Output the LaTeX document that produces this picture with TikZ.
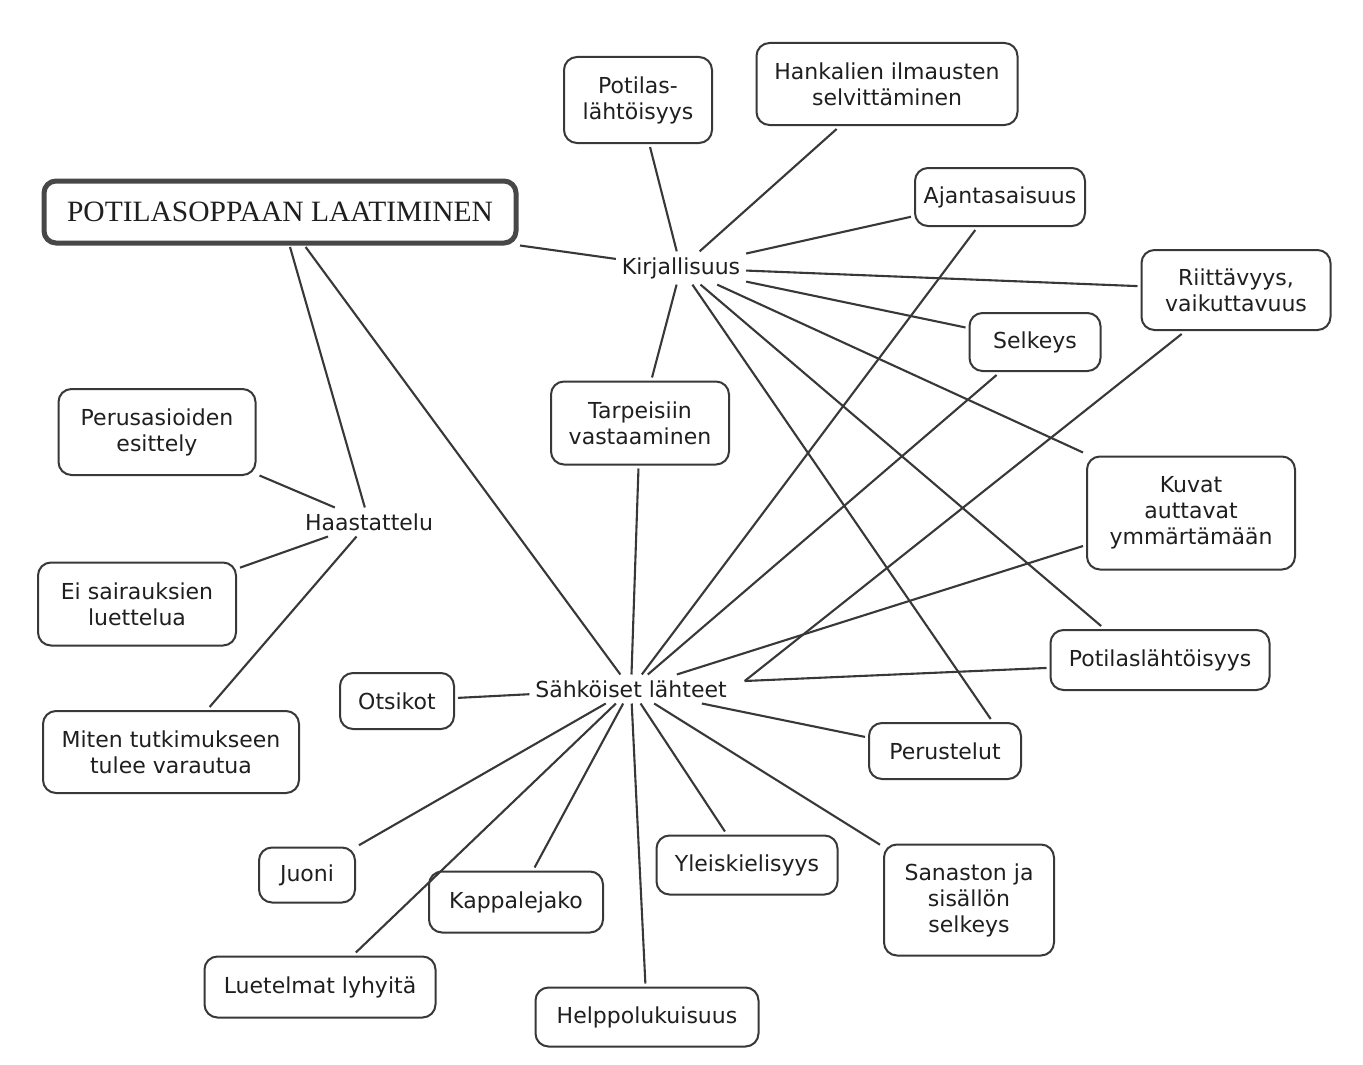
\documentclass[tikz,border=0pt]{standalone}
\usepackage{fontspec}
\setmainfont{DejaVu Sans}
\newfontfamily\titlefont{Liberation Serif}
\begin{document}
\begin{tikzpicture}[x=1pt,y=-1pt,
  bubble/.style={draw=black!78, line width=2pt, rounded corners=13pt, align=center,
    inner sep=2pt, outer sep=4pt, text=black!88, font=\fontsize{22}{26}\selectfont},
  hub/.style={inner sep=3pt, outer sep=3pt, text=black!88, font=\fontsize{22}{26}\selectfont},
  link/.style={draw=black!78, line width=2.1pt}]
\useasboundingbox[fill=white] (0,0) rectangle (1363,1065);

% main title
\node[draw=black!72, line width=5pt, rounded corners=12pt, minimum width=472pt,
  minimum height=62pt, outer sep=4pt, text=black!88,
  font=\titlefont\fontsize{29.5}{32}\selectfont] (title) at (280,212) {POTILASOPPAAN LAATIMINEN};

% hubs
\node[hub] (kirj) at (681,268) {Kirjallisuus};
\node[hub] (haast) at (369,522) {Haastattelu};
\node[hub] (sahko) at (631,689) {Sähköiset lähteet};
\coordinate (sahkoR) at ([xshift=12pt,yshift=8pt]sahko.east);

% literature branch
\node[bubble, minimum width=148pt, minimum height=86pt] (potl1) at (638,100) {Potilas-\\lähtöisyys};
\node[bubble, minimum width=261pt, minimum height=82pt] (hank) at (887,84) {Hankalien ilmausten\\selvittäminen};
\node[bubble, minimum width=170pt, minimum height=58pt] (ajan) at (1000,197) {Ajantasaisuus};
\node[bubble, minimum width=189pt, minimum height=80pt] (riitt) at (1236,290) {Riittävyys,\\vaikuttavuus};
\node[bubble, minimum width=131pt, minimum height=58pt] (selk) at (1035,342) {Selkeys};
\node[bubble, minimum width=178pt, minimum height=83pt] (tarp) at (640,423) {Tarpeisiin\\vastaaminen};
\node[bubble, minimum width=208pt, minimum height=113pt] (kuvat) at (1191,513) {Kuvat\\auttavat\\ymmärtämään};
\node[bubble, minimum width=219pt, minimum height=60pt] (potl2) at (1160,660) {Potilaslähtöisyys};
\node[bubble, minimum width=152pt, minimum height=56pt] (perus) at (945,751) {Perustelut};

% interview branch
\node[bubble, minimum width=197pt, minimum height=86pt] (perusa) at (157,432) {Perusasioiden\\esittely};
\node[bubble, minimum width=198pt, minimum height=83pt] (eisair) at (137,604) {Ei sairauksien\\luettelua};
\node[bubble, minimum width=256pt, minimum height=82pt] (miten) at (171,752) {Miten tutkimukseen\\tulee varautua};

% electronic sources branch
\node[bubble, minimum width=114pt, minimum height=56pt] (otsik) at (397,701) {Otsikot};
\node[bubble, minimum width=96pt, minimum height=55pt] (juoni) at (307,875) {Juoni};
\node[bubble, minimum width=174pt, minimum height=61pt] (kappa) at (516,902) {Kappalejako};
\node[bubble, minimum width=231pt, minimum height=61pt] (luet) at (320,987) {Luetelmat lyhyitä};
\node[bubble, minimum width=223pt, minimum height=59pt] (helppo) at (647,1017) {Helppolukuisuus};
\node[bubble, minimum width=181pt, minimum height=59pt] (yleis) at (747,865) {Yleiskielisyys};
\node[bubble, minimum width=170pt, minimum height=111pt] (sanas) at (969,900) {Sanaston ja\\sisällön\\selkeys};

% connectors from the title
\draw[link] (title) -- (kirj);
\draw[link] (title) -- (haast);
\draw[link] (title) -- (sahko);

% connectors from Kirjallisuus
\draw[link] (kirj) -- (potl1);
\draw[link] (kirj) -- (hank);
\draw[link] (kirj) -- (ajan);
\draw[link] (kirj) -- (riitt);
\draw[link] (kirj) -- (selk);
\draw[link] (kirj) -- (tarp);
\draw[link] (kirj) -- (kuvat.north west);
\draw[link] (kirj) -- (potl2.150);
\draw[link] (kirj) -- (perus.35);

% connectors into Sähköiset lähteet
\draw[link] (tarp) -- (sahko);
\draw[link] (ajan) -- (sahko);
\draw[link] (selk) -- (sahko);
\draw[link] (riitt.219) -- (sahkoR);
\draw[link] (kuvat.197) -- (sahko);
\draw[link] (potl2.184) -- (sahkoR);
\draw[link] (perus.170) -- (sahko);
\draw[link] (otsik) -- (sahko);
\draw[link] (sahko) -- (juoni);
\draw[link] (sahko) -- (luet);
\draw[link] (sahko) -- (kappa);
\draw[link] (sahko) -- (helppo);
\draw[link] (sahko) -- (yleis);
\draw[link] (sahko) -- (sanas);

% connectors from Haastattelu
\draw[link] (haast) -- (perusa);
\draw[link] (haast) -- (eisair);
\draw[link] (haast) -- (miten);
\end{tikzpicture}
\end{document}
